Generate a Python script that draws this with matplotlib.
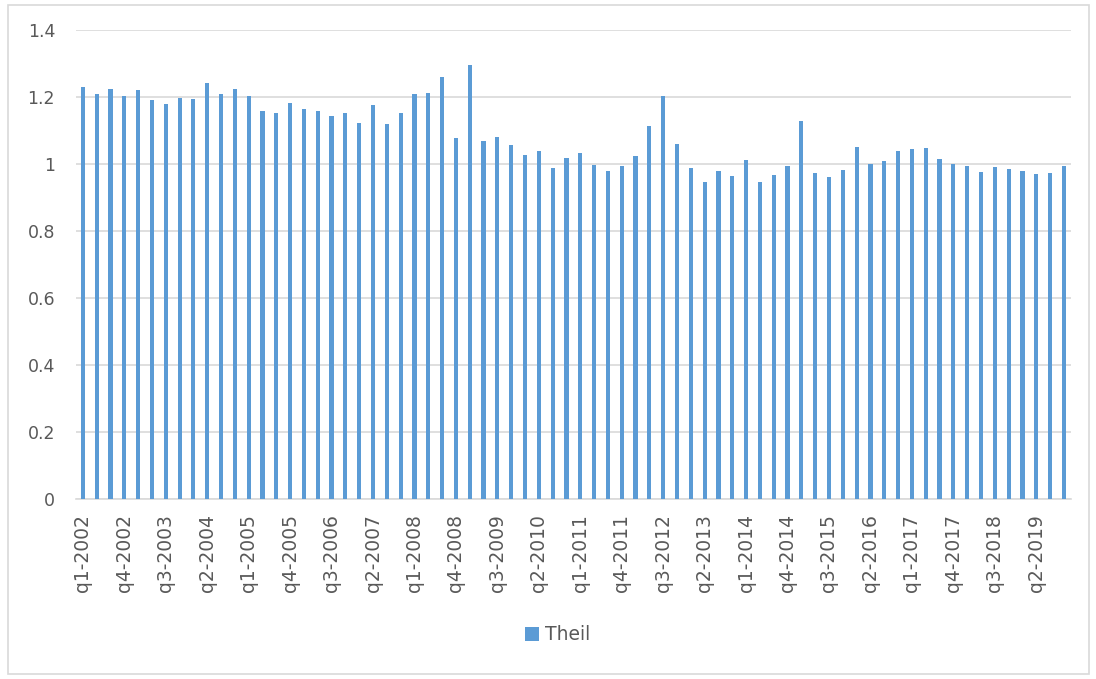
import matplotlib
matplotlib.use("Agg")
import matplotlib.pyplot as plt
from matplotlib.patches import Rectangle

years = list(range(2002, 2020))
categories = [f"q{q}-{y}" for y in years for q in (1, 2, 3, 4)]

theil = [1.230, 1.210, 1.225, 1.204, 1.221, 1.192, 1.180, 1.197, 1.195, 1.240,
         1.209, 1.225, 1.203, 1.159, 1.152, 1.183, 1.165, 1.158, 1.144, 1.152,
         1.121, 1.177, 1.119, 1.151, 1.209, 1.213, 1.258, 1.078, 1.296, 1.067,
         1.081, 1.057, 1.027, 1.039, 0.988, 1.017, 1.033, 0.998, 0.979, 0.994,
         1.024, 1.114, 1.202, 1.059, 0.988, 0.947, 0.979, 0.965, 1.011, 0.947,
         0.967, 0.994, 1.128, 0.972, 0.961, 0.982, 1.050, 1.001, 1.008, 1.039,
         1.045, 1.049, 1.015, 0.999, 0.994, 0.975, 0.990, 0.986, 0.979, 0.971,
         0.973, 0.994]

yticks = [0, 0.2, 0.4, 0.6, 0.8, 1.0, 1.2, 1.4]
ytick_labels = ["0", "0.2", "0.4", "0.6", "0.8", "1", "1.2", "1.4"]

plt.rcParams['font.family'] = ['DejaVu Sans']
text_color = "#595959"
grid_color = "#d9d9d9"
bar_color = "#5B9BD5"

fig = plt.figure(figsize=(10.96, 6.79), dpi=100)
fig.patches.append(Rectangle((0.007, 0.008), 0.987, 0.985, transform=fig.transFigure,
                             fill=False, edgecolor=grid_color, linewidth=1.2))
ax = fig.add_axes([0.0693, 0.265, 0.9077, 0.691])

x = list(range(len(categories)))
ax.bar(x, theil, width=0.3, color=bar_color, label="Theil", zorder=3)

ax.set_xlim(-0.5, len(categories) - 0.5)
ax.set_ylim(0, 1.4)
ax.set_yticks(yticks)
ax.set_yticklabels(ytick_labels)
ax.yaxis.grid(True, color=grid_color, linewidth=1.2, zorder=0)
ax.set_axisbelow(True)

ax.set_xticks(x[::3])
ax.set_xticklabels(categories[::3], rotation=90)

for s in ("top", "right", "left"):
    ax.spines[s].set_visible(False)
ax.spines["bottom"].set_color(grid_color)
ax.spines["bottom"].set_linewidth(1.2)
ax.tick_params(axis="both", length=0, colors=text_color)
ax.tick_params(axis="x", pad=11, labelsize=13.5)
ax.tick_params(axis="y", pad=15, labelsize=12.5)

leg = fig.legend(loc="center", bbox_to_anchor=(0.509, 0.065), frameon=False,
                 fontsize=13.5, handlelength=0.75, handleheight=0.75, handletextpad=0.3)
for t in leg.get_texts():
    t.set_color(text_color)

fig.savefig("out.png", dpi=100)
